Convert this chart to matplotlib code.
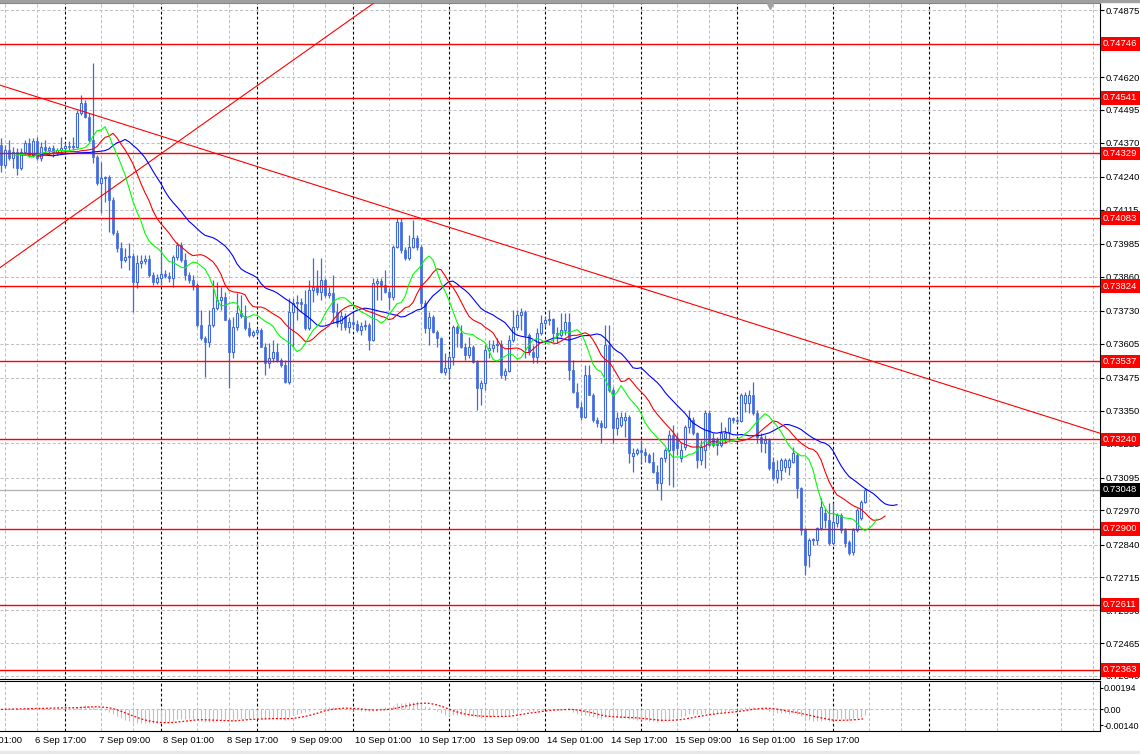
import numpy as np
import pandas as pd
import matplotlib
matplotlib.use("Agg")
import matplotlib.pyplot as plt
from matplotlib.patches import Rectangle
from matplotlib.transforms import blended_transform_factory

plt.rcParams['font.family'] = ['Liberation Sans', 'DejaVu Sans']

# H1 bars, 6 Sep 08:00 .. 17 Sep 08:00 (bar index = position on the time axis)
opens = [
    0.74361, 0.74285, 0.74342, 0.74311, 0.74334, 0.74273, 0.74334, 0.74369, 0.74323, 0.74376,
    0.74311, 0.74353, 0.74342, 0.74350, 0.74330, 0.74342, 0.74350, 0.74357, 0.74353, 0.74353,
    0.74483, 0.74521, 0.74468, 0.74380, 0.74315, 0.74216, 0.74235, 0.74239, 0.74152, 0.74026,
    0.73969, 0.73923, 0.73935, 0.73938, 0.73839, 0.73912, 0.73919, 0.73927, 0.73866, 0.73839,
    0.73855, 0.73870, 0.73862, 0.73855, 0.73935, 0.73980, 0.73923, 0.73866, 0.73847, 0.73828,
    0.73676, 0.73626, 0.73611, 0.73676, 0.73740, 0.73771, 0.73782, 0.73695, 0.73573, 0.73668,
    0.73721, 0.73710, 0.73664, 0.73638, 0.73649, 0.73657, 0.73592, 0.73531, 0.73550, 0.73573,
    0.73543, 0.73523, 0.73459, 0.73725, 0.73759, 0.73763, 0.73756, 0.73664, 0.73809, 0.73820,
    0.73801, 0.73847, 0.73790, 0.73798, 0.73725, 0.73683, 0.73710, 0.73668, 0.73687, 0.73680,
    0.73657, 0.73672, 0.73676, 0.73619, 0.73836, 0.73843, 0.73828, 0.73801, 0.73782, 0.73973,
    0.74068, 0.73961, 0.73931, 0.73973, 0.74007, 0.73973, 0.73759, 0.73664, 0.73706, 0.73649,
    0.73626, 0.73497, 0.73512, 0.73554, 0.73668, 0.73645, 0.73592, 0.73562, 0.73592, 0.73535,
    0.73436, 0.73455, 0.73581, 0.73588, 0.73600, 0.73603, 0.73485, 0.73501, 0.73619, 0.73668,
    0.73714, 0.73725, 0.73638, 0.73573, 0.73554, 0.73645, 0.73683, 0.73695, 0.73699, 0.73645,
    0.73638, 0.73657, 0.73687, 0.73504, 0.73421, 0.73364, 0.73325, 0.73485, 0.73409, 0.73314,
    0.73303, 0.73287, 0.73600, 0.73428, 0.73284, 0.73295, 0.73314, 0.73325, 0.73177, 0.73188,
    0.73200, 0.73192, 0.73181, 0.73154, 0.73116, 0.73074, 0.73169, 0.73200, 0.73257, 0.73246,
    0.73169, 0.73211, 0.73287, 0.73314, 0.73265, 0.73162, 0.73200, 0.73341, 0.73246, 0.73238,
    0.73219, 0.73246, 0.73268, 0.73322, 0.73314, 0.73310, 0.73379, 0.73379, 0.73409, 0.73341,
    0.73249, 0.73227, 0.73238, 0.73154, 0.73093, 0.73124, 0.73135, 0.73135, 0.73154, 0.73181,
    0.73055, 0.72895, 0.72800, 0.72857, 0.72857, 0.72903, 0.72960, 0.72933, 0.72846, 0.72922,
    0.72952, 0.72895, 0.72850, 0.72812, 0.72895, 0.72941, 0.73002,
]
highs = [
    0.74388, 0.74361, 0.74380, 0.74353, 0.74350, 0.74350, 0.74380, 0.74388, 0.74388, 0.74391,
    0.74372, 0.74380, 0.74357, 0.74361, 0.74350, 0.74391, 0.74369, 0.74376, 0.74391, 0.74494,
    0.74551, 0.74532, 0.74483, 0.74673, 0.74323, 0.74296, 0.74243, 0.74247, 0.74163, 0.74037,
    0.73992, 0.73969, 0.73988, 0.73950, 0.73942, 0.73942, 0.73942, 0.73942, 0.73878, 0.73870,
    0.73969, 0.73885, 0.73878, 0.73942, 0.73992, 0.73992, 0.73950, 0.73878, 0.73866, 0.73836,
    0.73733, 0.73634, 0.73733, 0.73847, 0.73839, 0.73820, 0.73801, 0.73702, 0.73706, 0.73798,
    0.73790, 0.73752, 0.73687, 0.73657, 0.73664, 0.73664, 0.73607, 0.73607, 0.73619, 0.73607,
    0.73550, 0.73543, 0.73778, 0.73778, 0.73790, 0.73778, 0.73809, 0.73847, 0.73931, 0.73885,
    0.73931, 0.73855, 0.73820, 0.73866, 0.73759, 0.73729, 0.73721, 0.73706, 0.73721, 0.73695,
    0.73687, 0.73695, 0.73683, 0.73855, 0.73855, 0.73855, 0.73885, 0.73817, 0.73980, 0.74083,
    0.74083, 0.73973, 0.74018, 0.74075, 0.74018, 0.73980, 0.73771, 0.73725, 0.73714, 0.73657,
    0.73630, 0.73569, 0.73569, 0.73676, 0.73676, 0.73676, 0.73607, 0.73630, 0.73600, 0.73543,
    0.73466, 0.73600, 0.73619, 0.73619, 0.73626, 0.73619, 0.73512, 0.73638, 0.73733, 0.73733,
    0.73740, 0.73733, 0.73645, 0.73600, 0.73664, 0.73714, 0.73706, 0.73733, 0.73702, 0.73668,
    0.73721, 0.73721, 0.73721, 0.73543, 0.73455, 0.73383, 0.73523, 0.73523, 0.73417, 0.73325,
    0.73314, 0.73676, 0.73676, 0.73440, 0.73345, 0.73345, 0.73345, 0.73333, 0.73207, 0.73207,
    0.73238, 0.73207, 0.73188, 0.73192, 0.73143, 0.73173, 0.73207, 0.73276, 0.73295, 0.73265,
    0.73227, 0.73295, 0.73352, 0.73325, 0.73268, 0.73238, 0.73352, 0.73352, 0.73265, 0.73249,
    0.73306, 0.73287, 0.73325, 0.73325, 0.73325, 0.73417, 0.73421, 0.73428, 0.73459, 0.73352,
    0.73265, 0.73257, 0.73246, 0.73173, 0.73162, 0.73169, 0.73169, 0.73169, 0.73211, 0.73188,
    0.73059, 0.72903, 0.72865, 0.72865, 0.72907, 0.73017, 0.72979, 0.72998, 0.72998, 0.72960,
    0.72960, 0.72903, 0.72857, 0.72903, 0.72979, 0.73010, 0.73055,
]
lows = [
    0.74258, 0.74273, 0.74304, 0.74273, 0.74247, 0.74266, 0.74323, 0.74315, 0.74315, 0.74304,
    0.74300, 0.74330, 0.74323, 0.74315, 0.74323, 0.74330, 0.74334, 0.74342, 0.74342, 0.74350,
    0.74475, 0.74464, 0.74372, 0.74292, 0.74209, 0.74102, 0.74144, 0.74030, 0.74018, 0.73954,
    0.73893, 0.73916, 0.73885, 0.73725, 0.73817, 0.73893, 0.73908, 0.73859, 0.73828, 0.73832,
    0.73828, 0.73855, 0.73839, 0.73820, 0.73923, 0.73916, 0.73847, 0.73836, 0.73809, 0.73668,
    0.73619, 0.73478, 0.73592, 0.73668, 0.73733, 0.73733, 0.73695, 0.73436, 0.73550, 0.73657,
    0.73702, 0.73657, 0.73630, 0.73630, 0.73638, 0.73592, 0.73485, 0.73512, 0.73535, 0.73535,
    0.73516, 0.73455, 0.73451, 0.73592, 0.73695, 0.73725, 0.73657, 0.73657, 0.73763, 0.73790,
    0.73771, 0.73782, 0.73778, 0.73683, 0.73668, 0.73657, 0.73657, 0.73645, 0.73664, 0.73649,
    0.73638, 0.73657, 0.73581, 0.73615, 0.73771, 0.73771, 0.73798, 0.73733, 0.73771, 0.73969,
    0.73950, 0.73923, 0.73923, 0.73969, 0.73961, 0.73744, 0.73645, 0.73600, 0.73645, 0.73592,
    0.73493, 0.73485, 0.73474, 0.73523, 0.73592, 0.73588, 0.73543, 0.73550, 0.73531, 0.73352,
    0.73371, 0.73428, 0.73550, 0.73573, 0.73573, 0.73474, 0.73466, 0.73497, 0.73611, 0.73657,
    0.73657, 0.73550, 0.73562, 0.73531, 0.73531, 0.73638, 0.73668, 0.73676, 0.73611, 0.73607,
    0.73630, 0.73638, 0.73466, 0.73417, 0.73360, 0.73314, 0.73322, 0.73409, 0.73306, 0.73287,
    0.73227, 0.73284, 0.73421, 0.73227, 0.73257, 0.73287, 0.73249, 0.73150, 0.73116, 0.73181,
    0.73150, 0.73154, 0.73150, 0.73112, 0.73048, 0.73010, 0.73154, 0.73067, 0.73059, 0.73181,
    0.73154, 0.73200, 0.73265, 0.73257, 0.73131, 0.73143, 0.73131, 0.73211, 0.73211, 0.73181,
    0.73211, 0.73227, 0.73230, 0.73303, 0.73303, 0.73306, 0.73345, 0.73341, 0.73333, 0.73227,
    0.73192, 0.73188, 0.73124, 0.73086, 0.73074, 0.73086, 0.73116, 0.73105, 0.73150, 0.73017,
    0.72876, 0.72724, 0.72754, 0.72838, 0.72838, 0.72895, 0.72903, 0.72838, 0.72838, 0.72907,
    0.72884, 0.72831, 0.72800, 0.72800, 0.72888, 0.72933, 0.72998,
]
closes = [
    0.74285, 0.74342, 0.74311, 0.74334, 0.74273, 0.74334, 0.74369, 0.74323, 0.74376, 0.74311,
    0.74353, 0.74342, 0.74350, 0.74330, 0.74342, 0.74350, 0.74357, 0.74353, 0.74357, 0.74483,
    0.74521, 0.74468, 0.74380, 0.74315, 0.74216, 0.74235, 0.74239, 0.74152, 0.74026, 0.73969,
    0.73923, 0.73935, 0.73938, 0.73839, 0.73912, 0.73919, 0.73927, 0.73866, 0.73839, 0.73855,
    0.73870, 0.73862, 0.73855, 0.73935, 0.73980, 0.73923, 0.73866, 0.73847, 0.73828, 0.73676,
    0.73626, 0.73611, 0.73676, 0.73740, 0.73771, 0.73782, 0.73695, 0.73573, 0.73668, 0.73721,
    0.73710, 0.73664, 0.73638, 0.73649, 0.73657, 0.73592, 0.73531, 0.73550, 0.73573, 0.73543,
    0.73523, 0.73459, 0.73725, 0.73759, 0.73763, 0.73756, 0.73664, 0.73809, 0.73820, 0.73801,
    0.73847, 0.73790, 0.73798, 0.73725, 0.73683, 0.73710, 0.73668, 0.73687, 0.73680, 0.73657,
    0.73672, 0.73676, 0.73619, 0.73836, 0.73843, 0.73828, 0.73801, 0.73782, 0.73973, 0.74068,
    0.73961, 0.73931, 0.73973, 0.74007, 0.73973, 0.73759, 0.73664, 0.73706, 0.73649, 0.73626,
    0.73497, 0.73512, 0.73554, 0.73668, 0.73645, 0.73592, 0.73562, 0.73592, 0.73535, 0.73436,
    0.73455, 0.73581, 0.73588, 0.73600, 0.73603, 0.73485, 0.73501, 0.73619, 0.73668, 0.73714,
    0.73725, 0.73638, 0.73573, 0.73554, 0.73645, 0.73683, 0.73695, 0.73699, 0.73645, 0.73638,
    0.73657, 0.73687, 0.73504, 0.73421, 0.73364, 0.73325, 0.73485, 0.73409, 0.73314, 0.73303,
    0.73287, 0.73600, 0.73428, 0.73284, 0.73322, 0.73325, 0.73325, 0.73188, 0.73188, 0.73200,
    0.73192, 0.73181, 0.73154, 0.73116, 0.73074, 0.73169, 0.73200, 0.73257, 0.73200, 0.73207,
    0.73200, 0.73287, 0.73322, 0.73265, 0.73162, 0.73211, 0.73341, 0.73219, 0.73219, 0.73219,
    0.73265, 0.73265, 0.73322, 0.73314, 0.73310, 0.73409, 0.73409, 0.73409, 0.73341, 0.73249,
    0.73227, 0.73238, 0.73131, 0.73093, 0.73124, 0.73162, 0.73162, 0.73162, 0.73188, 0.73055,
    0.72895, 0.72762, 0.72857, 0.72861, 0.72903, 0.72983, 0.72933, 0.72846, 0.72926, 0.72952,
    0.72895, 0.72846, 0.72808, 0.72895, 0.72971, 0.73002, 0.73048,
]

price_ticks = [0.74875, 0.74745, 0.74620, 0.74495, 0.74370, 0.74240, 0.74115, 0.73985,
               0.73860, 0.73730, 0.73605, 0.73475, 0.73350, 0.73225, 0.73095, 0.72970,
               0.72840, 0.72715, 0.72590, 0.72465, 0.72340]
levels = [0.74746, 0.74541, 0.74329, 0.74083, 0.73824, 0.73537, 0.73240, 0.72900, 0.72611, 0.72363]
last_price = 0.73048

# trend lines: two anchor points (bar, price) each, drawn as rays
trend_down = ([0, 100], [0.74588, 0.74106])
trend_up = ([0, 50], [0.73897, 0.74436])

time_bars = [-7, 9, 25, 41, 57, 73, 89, 105, 121, 137, 153, 169, 185, 201]
time_labels = ['6 Sep 01:00', '6 Sep 17:00', '7 Sep 09:00', '8 Sep 01:00', '8 Sep 17:00',
               '9 Sep 09:00', '10 Sep 01:00', '10 Sep 17:00', '13 Sep 09:00', '14 Sep 01:00',
               '14 Sep 17:00', '15 Sep 09:00', '16 Sep 01:00', '16 Sep 17:00']
day_bars = [16, 40, 64, 88, 112, 136, 160, 184, 208, 232]

macd_ticks = [0.00194, 0.0, -0.00140]
macd_labels = ['0.00194', '0.00', '-0.00140']

BLUE = '#4169E1'
GRID = '#C0C0C0'
FS = 6.8

o = np.array(opens)
h = np.array(highs)
l = np.array(lows)
c = np.array(closes)
n = len(c)
x = np.arange(n)


def smma(values, period):
    out = np.empty(len(values))
    out[0] = values[0]
    for i in range(1, len(values)):
        out[i] = (out[i - 1] * (period - 1) + values[i]) / period
    return out


# Alligator (median price, SMMA 13/8/5 shifted 8/5/3)
median = (h + l) / 2
jaw = smma(median, 13)
teeth = smma(median, 8)
lips = smma(median, 5)

# MACD 12/26/9
cs = pd.Series(c)
macd_main = (cs.ewm(span=12, adjust=False).mean() - cs.ewm(span=26, adjust=False).mean()).values
macd_signal = pd.Series(macd_main).rolling(9, min_periods=1).mean().values

W, H = 1140, 754
fig = plt.figure(figsize=(W / 100, H / 100), dpi=100)
fig.patch.set_facecolor('white')

ax = fig.add_axes([0, (H - 679) / H, 1100 / W, 676 / H])
axm = fig.add_axes([0, (H - 731) / H, 1100 / W, 50 / H])

xlim = (-0.25, 274.75)
for a in (ax, axm):
    a.set_xlim(*xlim)
    a.set_facecolor('white')
    a.spines['left'].set_visible(False)
    for s in ('right', 'bottom', 'top'):
        a.spines[s].set_linewidth(0.8)
        a.spines[s].set_color('black')
    a.set_xticks([])
    # vertical grid + day separators
    for b in range(1, 275, 8):
        if b % 24 != 17:
            a.axvline(b, color=GRID, lw=0.75, ls=(0, (3, 2)), zorder=0.5)
    for b in day_bars:
        a.axvline(b, color='black', lw=0.8, ls=(0, (2.5, 2)), zorder=0.6)

ax.spines['top'].set_color('#808080')
ax.set_ylim(0.72328, 0.74902)

for p in price_ticks:
    ax.axhline(p, color=GRID, lw=0.75, ls=(0, (3, 2)), zorder=0.5)

ax.yaxis.tick_right()
ax.set_yticks(price_ticks)
ax.set_yticklabels(['%.5f' % p for p in price_ticks])
ax.tick_params(axis='y', length=3, width=0.8, pad=1, labelsize=FS, colors='black')

# candles
ax.vlines(x, l, h, color=BLUE, lw=0.9, zorder=2)
up = c >= o
ax.bar(x[~up], (o - c)[~up], bottom=c[~up], width=0.62, color=BLUE,
       edgecolor=BLUE, linewidth=0.5, zorder=3)
ax.bar(x[up], (c - o)[up], bottom=o[up], width=0.62, facecolor='white',
       edgecolor=BLUE, linewidth=0.8, zorder=3)

# alligator
ax.plot(x + 8, jaw, color='#0000FF', lw=0.8, zorder=4)
ax.plot(x + 5, teeth, color='#FF0000', lw=0.8, zorder=4)
ax.plot(x + 3, lips, color='#00FF00', lw=0.8, zorder=4)

# horizontal levels and trend lines
for p in levels:
    ax.axhline(p, color='#FF0000', lw=1.0, zorder=3.5)
ax.axhline(last_price, color='#B0B0B0', lw=0.9, zorder=1)
for (bx, py) in (trend_down, trend_up):
    slope = (py[1] - py[0]) / (bx[1] - bx[0])
    xs = np.array([-1.0, 276.0])
    ax.plot(xs, py[0] + slope * (xs - bx[0]), color='#FF0000', lw=0.8, zorder=3.5)

# price boxes on the right scale
tr = blended_transform_factory(ax.transAxes, ax.transData)
for p in levels:
    ax.text(1 + 3 / 1100, p, '%.5f' % p, transform=tr, ha='left', va='center',
            fontsize=FS, color='white', clip_on=False, zorder=6,
            bbox=dict(boxstyle='square,pad=0.25', fc='#FF0000', ec='none'))
ax.text(1 + 3 / 1100, last_price, '%.5f' % last_price, transform=tr, ha='left',
        va='center', fontsize=FS, color='white', clip_on=False, zorder=6,
        bbox=dict(boxstyle='square,pad=0.25', fc='black', ec='none'))

# chart shift marker
ax.plot([192.25], [0.995], marker='v', ms=5, color='#A0A0A0', mec='#A0A0A0',
        transform=blended_transform_factory(ax.transData, ax.transAxes),
        clip_on=False, zorder=7)

# MACD panel
axm.set_ylim(-0.00194, 0.00257)
axm.axhline(0, color=GRID, lw=0.75, ls=(0, (3, 2)), zorder=0.5)
axm.vlines(x, 0, macd_main, color='#C0C0C0', lw=0.8, zorder=2)
axm.plot(x, macd_signal, color='#FF0000', lw=0.9, ls=(0, (1.5, 1.5)), zorder=3)
axm.yaxis.tick_right()
axm.set_yticks(macd_ticks)
axm.set_yticklabels(macd_labels)
axm.tick_params(axis='y', length=2, width=0.8, pad=0.5, labelsize=6.5, colors='black')

trm = blended_transform_factory(axm.transData, axm.transAxes)
for b, lab in zip(time_bars, time_labels):
    axm.text(b - 0.4, -0.1, lab, transform=trm, ha='left', va='top', fontsize=FS,
             color='black', clip_on=False)

# window edges
fig.patches.append(Rectangle((0, 1 - 2 / H), 1, 2 / H, transform=fig.transFigure,
                             color='#A0A0A0', zorder=0))
fig.patches.append(Rectangle((0, 0), 1, 3 / H, transform=fig.transFigure,
                             color='#E8E8E8', zorder=0))

fig.savefig('out.png', dpi=100)
